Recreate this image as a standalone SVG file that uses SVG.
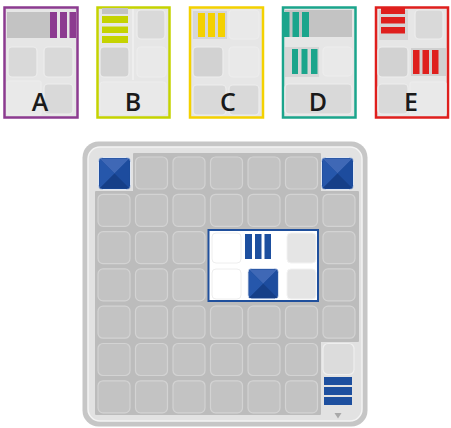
<svg xmlns="http://www.w3.org/2000/svg" width="451" height="428" viewBox="0 0 451 428">
<defs>
<style>
.card{fill:#e6e6e6;stroke-width:2.5}
.c{stroke:#ededed;stroke-width:1.2}
.cd{fill:#d2d2d2}
.cm{fill:#d9d9d9}
.cl{fill:#e9e9e9}
.lt{font-family:"Open Sans","Liberation Sans",sans-serif;font-weight:600;font-size:25px;fill:#1a1a1a;text-anchor:middle}
.bc{fill:#c3c3c3;stroke:#d3d3d3;stroke-width:1.2}
.blue{fill:#1d4f9f}
</style>
<g id="pyr">
<rect x="0" y="0" width="32" height="32" rx="4" fill="#1b4a99" stroke="#dfe6f2" stroke-width="1"/>
<path d="M1,1 L31,1 L16,16 Z" fill="#3f68b6"/>
<path d="M1,1 L16,16 L1,31 Z" fill="#2657ab"/>
<path d="M31,1 L16,16 L31,31 Z" fill="#1d4c9e"/>
<path d="M1,31 L16,16 L31,31 Z" fill="#163f88"/>
</g>
</defs>

<!-- Card A -->
<g id="cardA">
<rect class="card" x="4.5" y="7.5" width="73" height="110" stroke="#8c3b90"/>
<rect x="7" y="12" width="43" height="26" fill="#c3c3c3"/>
<rect x="50" y="12" width="7" height="26" fill="#8c3b90"/>
<rect x="60" y="12" width="7" height="26" fill="#8c3b90"/>
<rect x="69.5" y="12" width="6.5" height="26" fill="#8c3b90"/>
<rect class="c cm" x="8" y="47" width="29" height="30" rx="4"/>
<rect class="c cm" x="44" y="47" width="29" height="30" rx="4"/>
<rect class="c cl" x="7" y="81" width="34" height="34" rx="2"/>
<rect class="c cm" x="44" y="84" width="29" height="30" rx="4"/>
<text class="lt" x="40" y="111">A</text>
</g>

<!-- Card B -->
<g id="cardB">
<rect class="card" x="97.5" y="7.5" width="72" height="110" stroke="#c5d300"/>
<rect x="102" y="8" width="26" height="6" fill="#c3c3c3"/>
<rect x="102" y="16" width="26" height="7" fill="#c5d300"/>
<rect x="102" y="26.5" width="26" height="6.5" fill="#c5d300"/>
<rect x="102" y="36" width="26" height="7" fill="#c5d300"/>
<line x1="133" y1="9" x2="133" y2="80" stroke="#f4f4f4" stroke-width="1.2"/>
<rect class="c cm" x="137" y="10" width="28" height="29" rx="4"/>
<rect class="c cd" x="100" y="47" width="29" height="30" rx="4"/>
<rect class="c cl" x="137" y="47" width="29" height="30" rx="4"/>
<rect class="c cl" x="100" y="82" width="66" height="32" rx="3"/>
<text class="lt" x="133" y="111">B</text>
</g>

<!-- Card C -->
<g id="cardC">
<rect class="card" x="190" y="7.5" width="73" height="110" stroke="#f4d100"/>
<rect x="193" y="11" width="34" height="28" fill="#d6d6d6"/>
<rect x="198" y="13" width="7" height="24" fill="#f4d100"/>
<rect x="208" y="13" width="7" height="24" fill="#f4d100"/>
<rect x="218" y="13" width="7" height="24" fill="#f4d100"/>
<rect class="c cl" x="229" y="10" width="30" height="29" rx="4"/>
<rect class="c cd" x="193" y="47" width="30" height="30" rx="4"/>
<rect class="c cl" x="229" y="47" width="30" height="30" rx="4"/>
<rect class="c cm" x="193" y="85" width="33" height="30" rx="4"/>
<rect class="c cm" x="229" y="85" width="30" height="30" rx="4"/>
<text class="lt" x="228" y="111">C</text>
</g>

<!-- Card D -->
<g id="cardD">
<rect class="card" x="283" y="7.5" width="72.5" height="110" stroke="#1ba58c"/>
<rect x="285" y="10" width="67" height="27" fill="#c3c3c3"/>
<rect x="284" y="12" width="5.5" height="25" fill="#1ba58c"/>
<rect x="292.5" y="12" width="6.5" height="25" fill="#1ba58c"/>
<rect x="302" y="12" width="7" height="25" fill="#1ba58c"/>
<rect x="285" y="47" width="34" height="30" fill="#d6d6d6"/>
<rect x="292" y="49" width="6" height="25" fill="#1ba58c"/>
<rect x="301.5" y="49" width="6" height="25" fill="#1ba58c"/>
<rect x="311" y="49" width="6.5" height="25" fill="#1ba58c"/>
<rect class="c cl" x="323" y="47" width="29" height="29" rx="4"/>
<rect class="c cm" x="285" y="84" width="67" height="30" rx="4"/>
<text class="lt" x="318" y="111">D</text>
</g>

<!-- Card E -->
<g id="cardE">
<rect class="card" x="376" y="7.5" width="72" height="110" stroke="#df1f1d"/>
<rect x="379" y="10" width="29" height="30" fill="#d6d6d6"/>
<rect x="381" y="8" width="24" height="6" fill="#df1f1d"/>
<rect x="381" y="17" width="24" height="6.5" fill="#df1f1d"/>
<rect x="381" y="27" width="24" height="6.5" fill="#df1f1d"/>
<rect class="c cm" x="415" y="10" width="28" height="29" rx="4"/>
<rect class="c cd" x="378" y="47" width="30" height="30" rx="4"/>
<rect x="411" y="48" width="35" height="28" fill="#d0d0d0"/>
<rect x="413" y="50" width="6.5" height="24" fill="#df1f1d"/>
<rect x="422.5" y="50" width="6.5" height="24" fill="#df1f1d"/>
<rect x="432" y="50" width="6.5" height="24" fill="#df1f1d"/>
<rect class="c cm" x="378" y="84" width="30" height="30" rx="4"/>
<rect class="c cl" x="410" y="82" width="36" height="33" rx="2"/>
<text class="lt" x="411" y="111">E</text>
</g>

<!-- Board -->
<g id="board">
<rect x="82.5" y="141.5" width="285" height="285" rx="16" fill="#c6c6c6"/>
<rect x="88" y="147" width="274" height="274" rx="12" fill="#e2e2e2" stroke="#f4f4f4" stroke-width="1.5"/>
<path d="M134,154 H320 V192 H358 V341 H320 V414 H96 V192 H134 Z" fill="#bcbcbc" stroke="#bcbcbc" stroke-width="2" stroke-linejoin="round"/>
</g>

<g id="cells">
<!-- row 0 -->
<rect class="bc" x="135.5" y="157" width="32" height="32" rx="5"/>
<rect class="bc" x="173" y="157" width="32" height="32" rx="5"/>
<rect class="bc" x="210.5" y="157" width="32" height="32" rx="5"/>
<rect class="bc" x="248" y="157" width="32" height="32" rx="5"/>
<rect class="bc" x="285.5" y="157" width="32" height="32" rx="5"/>
<!-- row 1 -->
<rect class="bc" x="98" y="194.3" width="32" height="32" rx="5"/>
<rect class="bc" x="135.5" y="194.3" width="32" height="32" rx="5"/>
<rect class="bc" x="173" y="194.3" width="32" height="32" rx="5"/>
<rect class="bc" x="210.5" y="194.3" width="32" height="32" rx="5"/>
<rect class="bc" x="248" y="194.3" width="32" height="32" rx="5"/>
<rect class="bc" x="285.5" y="194.3" width="32" height="32" rx="5"/>
<rect class="bc" x="323" y="194.3" width="32" height="32" rx="5"/>
<!-- row 2 -->
<rect class="bc" x="98" y="231.6" width="32" height="32" rx="5"/>
<rect class="bc" x="135.5" y="231.6" width="32" height="32" rx="5"/>
<rect class="bc" x="173" y="231.6" width="32" height="32" rx="5"/>
<rect class="bc" x="323" y="231.6" width="32" height="32" rx="5"/>
<!-- row 3 -->
<rect class="bc" x="98" y="268.9" width="32" height="32" rx="5"/>
<rect class="bc" x="135.5" y="268.9" width="32" height="32" rx="5"/>
<rect class="bc" x="173" y="268.9" width="32" height="32" rx="5"/>
<rect class="bc" x="323" y="268.9" width="32" height="32" rx="5"/>
<!-- row 4 -->
<rect class="bc" x="98" y="306.2" width="32" height="32" rx="5"/>
<rect class="bc" x="135.5" y="306.2" width="32" height="32" rx="5"/>
<rect class="bc" x="173" y="306.2" width="32" height="32" rx="5"/>
<rect class="bc" x="210.5" y="306.2" width="32" height="32" rx="5"/>
<rect class="bc" x="248" y="306.2" width="32" height="32" rx="5"/>
<rect class="bc" x="285.5" y="306.2" width="32" height="32" rx="5"/>
<rect class="bc" x="323" y="306.2" width="32" height="32" rx="5"/>
<!-- row 5 -->
<rect class="bc" x="98" y="343.5" width="32" height="32" rx="5"/>
<rect class="bc" x="135.5" y="343.5" width="32" height="32" rx="5"/>
<rect class="bc" x="173" y="343.5" width="32" height="32" rx="5"/>
<rect class="bc" x="210.5" y="343.5" width="32" height="32" rx="5"/>
<rect class="bc" x="248" y="343.5" width="32" height="32" rx="5"/>
<rect class="bc" x="285.5" y="343.5" width="32" height="32" rx="5"/>
<!-- row 6 -->
<rect class="bc" x="98" y="380.8" width="32" height="32" rx="5"/>
<rect class="bc" x="135.5" y="380.8" width="32" height="32" rx="5"/>
<rect class="bc" x="173" y="380.8" width="32" height="32" rx="5"/>
<rect class="bc" x="210.5" y="380.8" width="32" height="32" rx="5"/>
<rect class="bc" x="248" y="380.8" width="32" height="32" rx="5"/>
<rect class="bc" x="285.5" y="380.8" width="32" height="32" rx="5"/>
</g>

<g id="cornerTL"><use href="#pyr" transform="translate(98.5,157.5)"/></g>
<g id="cornerTR"><use href="#pyr" transform="translate(321.5,157.5)"/></g>

<g id="tray">
<rect x="323" y="343.5" width="31" height="31" rx="5" fill="#dcdcdc" stroke="#efefef" stroke-width="1.2"/>
<rect class="blue" x="324" y="377" width="28" height="8"/>
<rect class="blue" x="324" y="387" width="28" height="8"/>
<rect class="blue" x="324" y="397" width="28" height="8"/>
<path d="M334.5,413 L341.5,413 L338,418.5 Z" fill="#a9a9a9"/>
</g>

<g id="highlight">
<rect x="208.5" y="230" width="109.5" height="71" fill="#ffffff" stroke="#1f4f9c" stroke-width="2"/>
<rect x="212" y="233" width="29" height="30" rx="4" fill="#ffffff" stroke="#eeeeee" stroke-width="1"/>
<rect class="blue" x="245" y="234" width="7" height="25"/>
<rect class="blue" x="255" y="234" width="6.5" height="25"/>
<rect class="blue" x="264.5" y="234" width="6.5" height="25"/>
<rect x="287" y="233" width="29" height="30" rx="4" fill="#e5e5e5" stroke="#f2f2f2" stroke-width="1"/>
<rect x="212" y="269" width="29" height="30" rx="4" fill="#ffffff" stroke="#eeeeee" stroke-width="1"/>
<use href="#pyr" transform="translate(248,268.5) scale(0.95)"/>
<rect x="287" y="269" width="29" height="30" rx="4" fill="#e5e5e5" stroke="#f2f2f2" stroke-width="1"/>
</g>
</svg>
